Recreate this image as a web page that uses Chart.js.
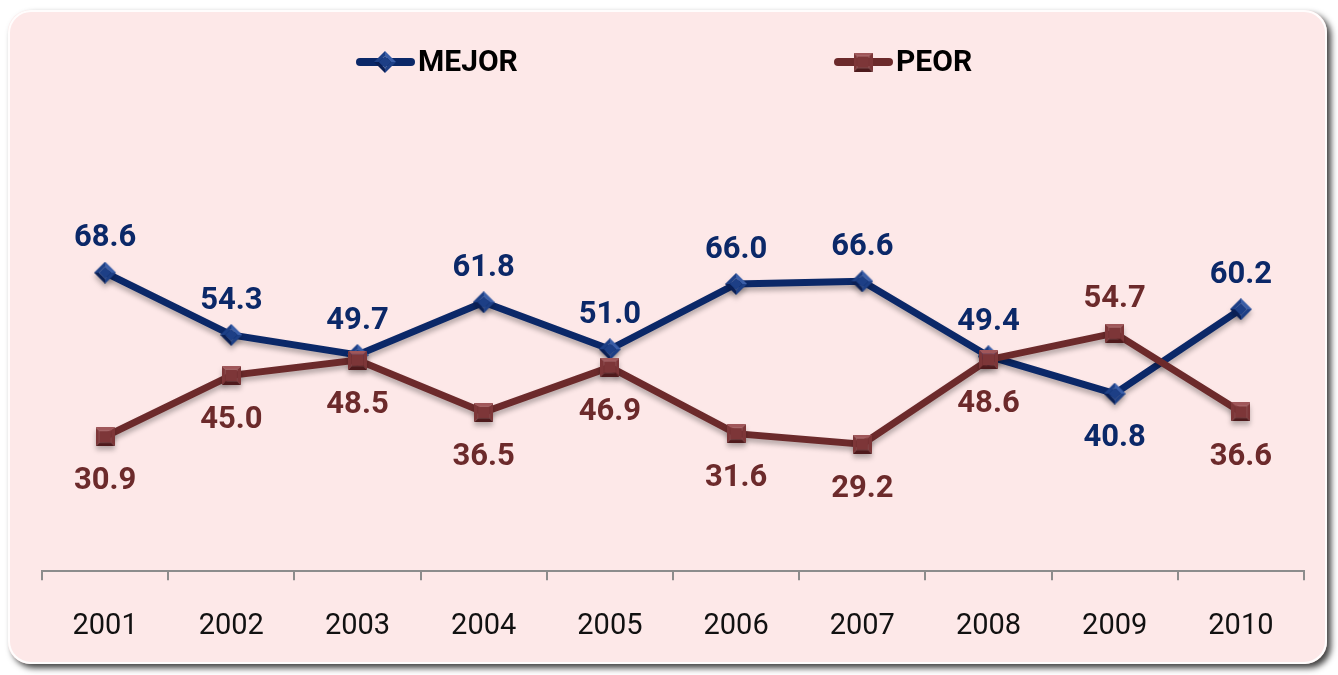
<!DOCTYPE html>
<html lang="es">

<head>
    <meta charset="UTF-8">
    <title>MEJOR / PEOR 2001-2010</title>
    <script src="https://cdn.jsdelivr.net/npm/chart.js"></script>
    <style>
        body { margin: 0; background: #ffffff; }
        canvas { display: block; }
    </style>
</head>

<body>
    <canvas id="chart" width="1338" height="675"></canvas>

    <script>
        // data
        const years = ['2001', '2002', '2003', '2004', '2005', '2006', '2007', '2008', '2009', '2010'];
        const mejor = [68.6, 54.3, 49.7, 61.8, 51.0, 66.0, 66.6, 49.4, 40.8, 60.2];
        const peor = [30.9, 45.0, 48.5, 36.5, 46.9, 31.6, 29.2, 48.6, 54.7, 36.6];

        const blue = '#0b2868';
        const brown = '#6c2a2b';

        // little bevelled markers, like the office-style ones
        function makeMarker(kind, size, light, mid, dark) {
            const c = document.createElement('canvas');
            c.width = size; c.height = size;
            const g = c.getContext('2d');
            const m = size / 2;
            let outer, inner;
            if (kind === 'diamond') {
                outer = [[m, 0], [size, m], [m, size], [0, m]];
                const k = size * 0.22;
                inner = [[m, k], [size - k, m], [m, size - k], [k, m]];
            } else {
                outer = [[0, 0], [size, 0], [size, size], [0, size]];
                const k = size * 0.2;
                inner = [[k, k], [size - k, k], [size - k, size - k], [k, size - k]];
            }
            const shades = [light, mid, dark, mid];
            for (let i = 0; i < 4; i++) {
                const j = (i + 1) % 4;
                g.beginPath();
                g.moveTo(outer[i][0], outer[i][1]);
                g.lineTo(outer[j][0], outer[j][1]);
                g.lineTo(inner[j][0], inner[j][1]);
                g.lineTo(inner[i][0], inner[i][1]);
                g.closePath();
                g.fillStyle = shades[i];
                g.fill();
            }
            g.beginPath();
            inner.forEach((p, i) => i ? g.lineTo(p[0], p[1]) : g.moveTo(p[0], p[1]));
            g.closePath();
            g.fillStyle = mid;
            g.fill();
            return c;
        }

        const diamond = makeMarker('diamond', 22, '#3a5ea8', '#1d3f86', '#0a1f55');
        const square = makeMarker('square', 19, '#a0575a', '#7d3638', '#4e1a1c');

        // rounded pink panel behind everything
        const panel = {
            id: 'panel',
            beforeDraw(chart) {
                const ctx = chart.ctx;
                ctx.save();
                ctx.fillStyle = '#ffffff';
                ctx.fillRect(0, 0, chart.width, chart.height);
                ctx.shadowColor = 'rgba(0,0,0,0.75)';
                ctx.shadowBlur = 6;
                ctx.shadowOffsetX = 4;
                ctx.shadowOffsetY = 4;
                ctx.beginPath();
                ctx.roundRect(8, 10, 1319, 654, 22);
                ctx.fillStyle = '#fde8e8';
                ctx.fill();
                ctx.restore();
                ctx.save();
                ctx.beginPath();
                ctx.roundRect(9, 11, 1317, 652, 22);
                ctx.strokeStyle = 'rgba(255,255,255,0.9)';
                ctx.lineWidth = 2;
                ctx.stroke();
                ctx.restore();
            }
        };

        // soft shadow under lines and markers
        const shade = {
            id: 'shade',
            beforeDatasetsDraw(chart) {
                const ctx = chart.ctx;
                ctx.save();
                ctx.shadowColor = 'rgba(0,0,0,0.28)';
                ctx.shadowBlur = 5;
                ctx.shadowOffsetY = 4;
            },
            afterDatasetsDraw(chart) {
                chart.ctx.restore();
            }
        };

        // value labels: put each label on the side away from the other series
        const valueLabels = {
            id: 'valueLabels',
            afterDatasetsDraw(chart) {
                const ctx = chart.ctx;
                ctx.save();
                ctx.font = 'bold 31px Roboto';
                ctx.textAlign = 'center';
                ctx.textBaseline = 'middle';
                chart.data.datasets.forEach((ds, di) => {
                    const other = chart.data.datasets[1 - di].data;
                    chart.getDatasetMeta(di).data.forEach((pt, i) => {
                        const above = ds.data[i] >= other[i];
                        ctx.fillStyle = ds.borderColor;
                        ctx.fillText(ds.data[i].toFixed(1), pt.x, above ? pt.y - 34 : pt.y + 45);
                    });
                });
                ctx.restore();
            }
        };

        // legend: line stub with marker, then bold name
        const legendBar = {
            id: 'legendBar',
            afterDraw(chart) {
                const ctx = chart.ctx;
                const spots = [356, 834];
                ctx.save();
                chart.data.datasets.forEach((ds, di) => {
                    const x = spots[di], y = 62;
                    ctx.beginPath();
                    ctx.moveTo(x + 4, y);
                    ctx.lineTo(x + 55, y);
                    ctx.lineCap = 'round';
                    ctx.lineWidth = 8;
                    ctx.strokeStyle = ds.borderColor;
                    ctx.stroke();
                    const img = ds.pointStyle;
                    ctx.drawImage(img, x + 29 - img.width / 2, y - img.height / 2);
                    ctx.font = 'bold 30px Roboto';
                    ctx.textBaseline = 'middle';
                    ctx.fillStyle = '#000000';
                    ctx.fillText(ds.label, x + 62, y + 1);
                });
                ctx.restore();
            }
        };

        new Chart(document.getElementById('chart').getContext('2d'), {
            type: 'line',
            data: {
                labels: years,
                datasets: [{
                    label: 'MEJOR',
                    data: mejor,
                    borderColor: blue,
                    borderWidth: 7,
                    pointStyle: diamond,
                    order: 2
                }, {
                    label: 'PEOR',
                    data: peor,
                    borderColor: brown,
                    borderWidth: 7,
                    pointStyle: square,
                    order: 1
                }]
            },
            options: {
                responsive: false,
                animation: false,
                layout: { padding: { left: 42, right: 34, top: 136, bottom: 2 } },
                plugins: {
                    legend: { display: false },
                    tooltip: { enabled: false }
                },
                scales: {
                    x: {
                        offset: true,
                        grid: {
                            offset: true,
                            drawOnChartArea: false,
                            tickLength: 9,
                            color: '#8c8c8c',
                            lineWidth: 2
                        },
                        border: { color: '#8c8c8c', width: 2 },
                        ticks: {
                            color: '#111111',
                            padding: 29,
                            font: { family: 'Roboto', size: 29 }
                        }
                    },
                    y: {
                        display: false,
                        min: 0,
                        max: 100
                    }
                }
            },
            plugins: [panel, shade, valueLabels, legendBar]
        });
    </script>
</body>

</html>
